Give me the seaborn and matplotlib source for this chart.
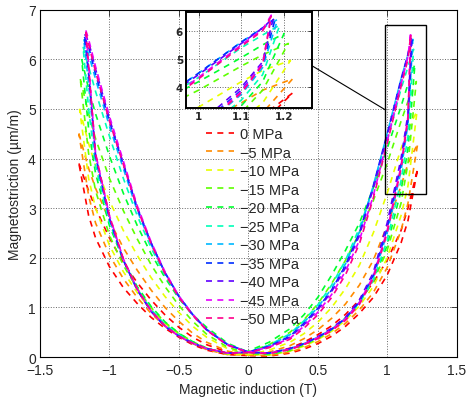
import numpy as np
import pandas as pd
import matplotlib
matplotlib.use('Agg')
import matplotlib.pyplot as plt
import seaborn as sns
from matplotlib.patches import Rectangle, ConnectionPatch
from matplotlib.lines import Line2D

# stress levels and legend text
stress = [0, -5, -10, -15, -20, -25, -30, -35, -40, -45, -50]
labels = ['0 MPa', '\u22125 MPa', '\u221210 MPa', '\u221215 MPa', '\u221220 MPa', '\u221225 MPa',
          '\u221230 MPa', '\u221235 MPa', '\u221240 MPa', '\u221245 MPa', '\u221250 MPa']
colors = ['#ff0000', '#ff8b00', '#e8ff00', '#5dff00', '#00ff2e', '#00ffb9',
          '#00b9ff', '#002eff', '#5d00ff', '#e800ff', '#ff008b']

# induction (T) where the branches were read
b_grid = [-1.15, -1.1, -1.0, -0.9, -0.8, -0.7, -0.6, -0.5, -0.4, -0.3, -0.15, 0.0,
          0.15, 0.3, 0.4, 0.5, 0.6, 0.7, 0.8, 0.9, 1.0, 1.1, 1.15]

# loop tips: peak induction, magnetostriction at -Bmax and +Bmax
b_max = [1.22, 1.22, 1.215, 1.21, 1.2, 1.19, 1.185, 1.18, 1.175, 1.17, 1.17]
tip_left = [3.9, 4.5, 5.0, 5.6, 6.0, 6.25, 6.4, 6.45, 6.5, 6.58, 6.55]
tip_right = [3.8, 4.3, 4.95, 5.55, 5.9, 6.2, 6.4, 6.45, 6.45, 6.55, 6.5]

# magnetostriction (um/m) on the rising (B up) and falling (B down) branches
up_0 = [3.35, 3.0, 2.4, 1.9, 1.5, 1.15, 0.85, 0.6, 0.4, 0.25, 0.1, 0.03, 0.02, 0.08, 0.16, 0.27, 0.42, 0.62, 0.88, 1.2, 1.65, 2.3, 2.75]
down_0 = [2.85, 2.4, 1.82, 1.4, 1.08, 0.8, 0.58, 0.4, 0.25, 0.14, 0.05, 0.03, 0.08, 0.18, 0.3, 0.45, 0.63, 0.86, 1.15, 1.5, 1.95, 2.55, 3.0]
up_5 = [3.8, 3.4, 2.75, 2.2, 1.75, 1.35, 1.0, 0.72, 0.48, 0.3, 0.12, 0.04, 0.03, 0.1, 0.19, 0.31, 0.47, 0.68, 0.95, 1.3, 1.8, 2.55, 3.1]
down_5 = [3.25, 2.7, 2.05, 1.58, 1.2, 0.88, 0.62, 0.42, 0.27, 0.15, 0.05, 0.04, 0.1, 0.23, 0.37, 0.55, 0.78, 1.07, 1.45, 1.95, 2.65, 3.45, 3.9]
up_10 = [4.3, 3.85, 3.15, 2.55, 2.05, 1.6, 1.22, 0.9, 0.62, 0.4, 0.17, 0.05, 0.04, 0.12, 0.22, 0.35, 0.52, 0.74, 1.03, 1.42, 2.0, 2.85, 3.45]
down_10 = [3.6, 3.0, 2.25, 1.72, 1.3, 0.95, 0.68, 0.46, 0.3, 0.17, 0.06, 0.05, 0.14, 0.3, 0.47, 0.7, 1.0, 1.38, 1.85, 2.5, 3.3, 4.2, 4.6]
up_15 = [4.9, 4.4, 3.6, 2.95, 2.38, 1.86, 1.42, 1.04, 0.72, 0.46, 0.2, 0.07, 0.05, 0.13, 0.24, 0.37, 0.55, 0.79, 1.1, 1.52, 2.15, 3.1, 3.9]
down_15 = [4.1, 3.35, 2.45, 1.85, 1.38, 1.0, 0.7, 0.48, 0.31, 0.18, 0.07, 0.1, 0.25, 0.5, 0.75, 1.07, 1.48, 1.95, 2.5, 3.15, 3.9, 4.75, 5.15]
up_20 = [5.4, 4.9, 4.05, 3.3, 2.65, 2.08, 1.6, 1.18, 0.85, 0.6, 0.28, 0.1, 0.06, 0.15, 0.26, 0.39, 0.56, 0.79, 1.1, 1.55, 2.25, 3.35, 4.2]
down_20 = [4.6, 3.7, 2.65, 1.95, 1.42, 1.02, 0.71, 0.48, 0.31, 0.18, 0.07, 0.12, 0.3, 0.57, 0.85, 1.2, 1.65, 2.15, 2.7, 3.4, 4.2, 5.05, 5.5]
up_25 = [5.85, 5.35, 4.45, 3.6, 2.85, 2.2, 1.65, 1.2, 0.84, 0.55, 0.25, 0.1, 0.07, 0.16, 0.26, 0.39, 0.55, 0.77, 1.08, 1.55, 2.35, 3.55, 4.45]
down_25 = [5.0, 3.85, 2.72, 1.95, 1.38, 0.96, 0.66, 0.45, 0.29, 0.17, 0.08, 0.1, 0.24, 0.47, 0.73, 1.05, 1.45, 1.95, 2.6, 3.4, 4.35, 5.4, 5.85]
up_30 = [6.1, 5.6, 4.65, 3.8, 2.95, 2.27, 1.7, 1.23, 0.86, 0.56, 0.26, 0.1, 0.08, 0.17, 0.27, 0.4, 0.56, 0.78, 1.1, 1.6, 2.5, 3.75, 4.7]
down_30 = [5.5, 4.0, 2.78, 1.95, 1.36, 0.93, 0.63, 0.43, 0.28, 0.17, 0.08, 0.1, 0.23, 0.45, 0.7, 1.0, 1.38, 1.88, 2.52, 3.45, 4.5, 5.6, 6.1]
up_35 = [6.25, 5.7, 4.75, 3.88, 3.0, 2.3, 1.7, 1.22, 0.85, 0.55, 0.25, 0.1, 0.08, 0.17, 0.27, 0.4, 0.56, 0.78, 1.12, 1.65, 2.6, 3.9, 4.8]
down_35 = [5.7, 4.05, 2.8, 1.95, 1.35, 0.92, 0.62, 0.42, 0.28, 0.17, 0.08, 0.1, 0.22, 0.42, 0.68, 0.98, 1.35, 1.85, 2.5, 3.45, 4.5, 5.6, 6.1]
up_40 = [6.35, 5.8, 4.8, 3.9, 3.02, 2.3, 1.7, 1.22, 0.85, 0.55, 0.25, 0.1, 0.08, 0.17, 0.27, 0.41, 0.58, 0.8, 1.15, 1.7, 2.7, 4.0, 4.9]
down_40 = [5.8, 4.05, 2.8, 1.96, 1.36, 0.92, 0.62, 0.42, 0.28, 0.17, 0.08, 0.1, 0.21, 0.4, 0.65, 0.95, 1.32, 1.8, 2.45, 3.4, 4.45, 5.55, 6.1]
up_45 = [6.4, 5.85, 4.85, 3.95, 3.05, 2.32, 1.72, 1.23, 0.86, 0.55, 0.25, 0.1, 0.08, 0.16, 0.26, 0.39, 0.55, 0.77, 1.1, 1.63, 2.55, 3.85, 4.85]
down_45 = [5.9, 4.1, 2.85, 1.98, 1.37, 0.93, 0.63, 0.42, 0.28, 0.17, 0.08, 0.1, 0.2, 0.38, 0.62, 0.9, 1.26, 1.73, 2.35, 3.25, 4.35, 5.5, 6.05]
up_50 = [6.3, 5.75, 4.75, 3.88, 3.0, 2.28, 1.68, 1.2, 0.84, 0.54, 0.24, 0.09, 0.07, 0.15, 0.25, 0.37, 0.53, 0.74, 1.06, 1.58, 2.5, 3.8, 4.8]
down_50 = [5.85, 4.1, 2.85, 1.98, 1.37, 0.93, 0.63, 0.42, 0.28, 0.17, 0.08, 0.09, 0.19, 0.36, 0.58, 0.85, 1.2, 1.66, 2.28, 3.2, 4.3, 5.45, 6.0]

up_branch = [up_0, up_5, up_10, up_15, up_20, up_25, up_30, up_35, up_40, up_45, up_50]
down_branch = [down_0, down_5, down_10, down_15, down_20, down_25, down_30, down_35, down_40, down_45, down_50]

x_ticks = [-1.5, -1, -0.5, 0, 0.5, 1, 1.5]
x_ticklabels = ['\u22121.5', '\u22121', '\u22120.5', '0', '0.5', '1', '1.5']
y_ticks = [0, 1, 2, 3, 4, 5, 6, 7]
inset_xticks = [1, 1.1, 1.2]
inset_xticklabels = ['1', '1.1', '1.2']
inset_yticks = [4, 5, 6]

# zoom window shown in the inset
zoom_x = (0.97, 1.265)
zoom_y = (3.27, 6.67)
box_x = (0.987, 1.277)
box_y = (3.29, 6.68)

# build the closed loops: rising branch then falling branch
rows = []
for k in range(len(stress)):
    bs = [-b_max[k]] + b_grid + [b_max[k]] + b_grid[::-1] + [-b_max[k]]
    ls = [tip_left[k]] + up_branch[k] + [tip_right[k]] + down_branch[k][::-1] + [tip_left[k]]
    for i in range(len(bs)):
        rows.append({'B': bs[i], 'lam': ls[i], 'label': labels[k], 'step': i})
df = pd.DataFrame(rows)

sns.set_style('white')
plt.rcParams['font.family'] = ['Liberation Sans', 'DejaVu Sans']

fig = plt.figure(figsize=(4.67, 4.06), dpi=100)
ax = fig.add_axes([0.0857, 0.118, 0.892, 0.856])
axins = fig.add_axes([0.3977, 0.7315, 0.27, 0.237])

for a in [ax, axins]:
    sns.lineplot(data=df, x='B', y='lam', hue='label', hue_order=labels, palette=colors,
                 sort=False, estimator=None, units='label', lw=1.2, legend=False, ax=a)
    for line in a.lines:
        line.set_linestyle('--')
        line.set_dashes((3.6, 3.2))

ax.set_xlim(-1.5, 1.5)
ax.set_ylim(0, 7)
ax.set_xticks(x_ticks)
ax.set_xticklabels(x_ticklabels)
ax.set_yticks(y_ticks)
ax.tick_params(direction='in', top=True, right=True, length=4, width=0.6, labelsize=10, pad=3)
ax.tick_params(axis='x', pad=4)
ax.grid(True, linestyle=':', color='0.4', lw=0.7)
for s in ax.spines.values():
    s.set_linewidth(0.8)
    s.set_color('k')
ax.set_xlabel('Magnetic induction (T)', fontsize=10)
ax.set_ylabel('Magnetostriction (\u00b5m/m)', fontsize=10)

axins.set_xlim(*zoom_x)
axins.set_ylim(*zoom_y)
axins.set_xticks(inset_xticks)
axins.set_xticklabels(inset_xticklabels)
axins.set_yticks(inset_yticks)
axins.set_xlabel('')
axins.set_ylabel('')
axins.tick_params(direction='in', top=True, right=True, length=3, width=0.6, labelsize=7.5, pad=2)
for t in axins.get_xticklabels() + axins.get_yticklabels():
    t.set_fontweight('bold')
    t.set_family(['DejaVu Sans'])
axins.grid(True, linestyle=':', color='0.4', lw=0.7)
for s in axins.spines.values():
    s.set_linewidth(1.4)
    s.set_color('k')

ax.add_patch(Rectangle((box_x[0], box_y[0]), box_x[1] - box_x[0], box_y[1] - box_y[0],
                       fill=False, ec='k', lw=1.0, zorder=5))
con = ConnectionPatch(xyA=(1.0, 0.44), coordsA=axins.transAxes,
                      xyB=(box_x[0], 4.98), coordsB=ax.transData, color='k', lw=0.8)
fig.add_artist(con)

handles = [Line2D([], [], color=c, lw=1.2, linestyle='--', dashes=(3.6, 3.2)) for c in colors]
ax.legend(handles, labels, loc='upper left', bbox_to_anchor=(206 / 467, 1 - 128 / 406),
          bbox_transform=fig.transFigure, frameon=False, fontsize=10.5, handlelength=1.95,
          handletextpad=0.35, labelspacing=0.31, borderpad=0, borderaxespad=0)

fig.savefig('out.png', dpi=100)
